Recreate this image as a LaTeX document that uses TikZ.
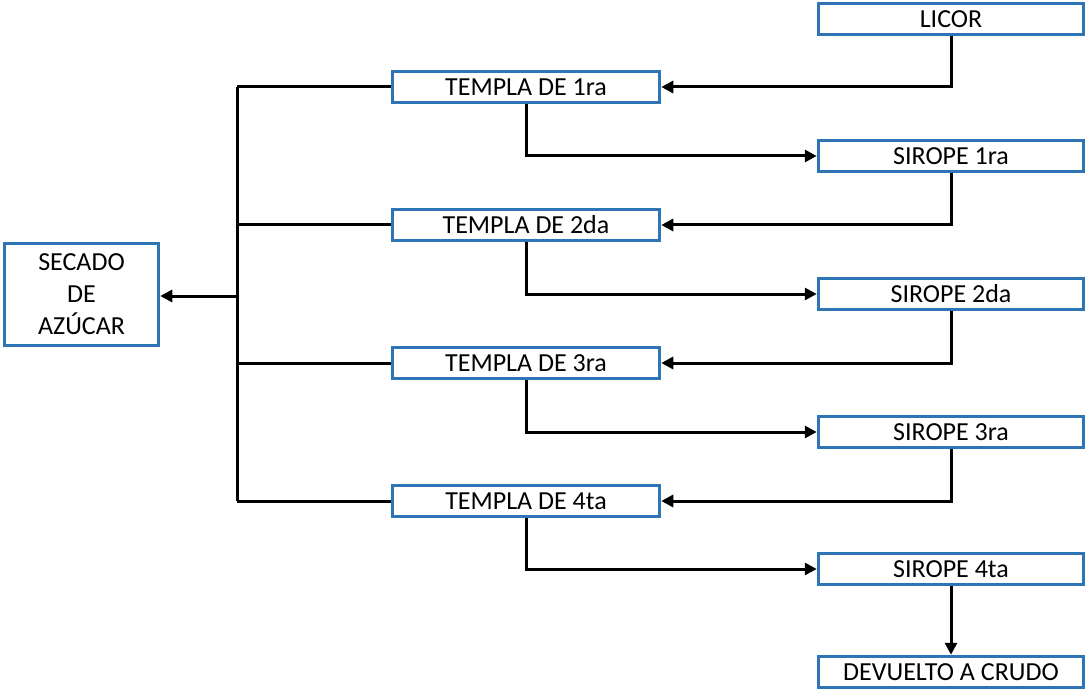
\documentclass[tikz,border=0pt]{standalone}
\usepackage{fontspec}
\setmainfont{Carlito}
\usetikzlibrary{arrows.meta}
\definecolor{boxblue}{RGB}{46,117,182}
\begin{document}
\begin{tikzpicture}[x=1pt,y=-1pt,
  box/.style={draw=boxblue,line width=3.5pt,fill=white,inner sep=0pt,
    font=\fontsize{26}{32}\selectfont},
  tbox/.style={box,minimum width=267pt,minimum height=31pt},
  sbox/.style={box,minimum width=265pt,minimum height=31pt},
  conn/.style={draw=black,line width=3pt,line join=miter},
  arr/.style={conn,-{Triangle[length=12pt,width=12pt]}}]
\useasboundingbox (0,0) rectangle (1088,690);
\node[sbox] (licor) at (951,19) {LICOR};
\node[tbox] (t1) at (526,87) {TEMPLA DE 1ra};
\node[sbox] (s1) at (951,156) {SIROPE 1ra};
\node[tbox] (t2) at (526,225) {TEMPLA DE 2da};
\node[sbox] (s2) at (951,294) {SIROPE 2da};
\node[tbox] (t3) at (526,363) {TEMPLA DE 3ra};
\node[sbox] (s3) at (951,432) {SIROPE 3ra};
\node[tbox] (t4) at (526,501) {TEMPLA DE 4ta};
\node[sbox] (s4) at (951,569) {SIROPE 4ta};
\node[sbox] (dev) at (951,672) {DEVUELTO A CRUDO};
\node[box,align=center,minimum width=154pt,minimum height=102pt] (sec) at (81.5,294.5) {SECADO\\DE\\AZÚCAR};
\coordinate (bustop) at (237,87);
\coordinate (busbot) at (237,501);
\coordinate (busmid) at (237,296);
\draw[conn] (bustop) -- (busbot);
\draw[conn] (t1.west) -- (t1.west -| bustop);
\draw[conn] (t2.west) -- (t2.west -| bustop);
\draw[conn] (t3.west) -- (t3.west -| bustop);
\draw[conn] (t4.west) -- (t4.west -| bustop);
\draw[arr] (busmid) -- (busmid -| sec.east);
\draw[arr] (licor.south) |- (t1.east);
\draw[arr] (t1.south) |- (s1.west);
\draw[arr] (s1.south) |- (t2.east);
\draw[arr] (t2.south) |- (s2.west);
\draw[arr] (s2.south) |- (t3.east);
\draw[arr] (t3.south) |- (s3.west);
\draw[arr] (s3.south) |- (t4.east);
\draw[arr] (t4.south) |- (s4.west);
\draw[arr] (s4.south) -- (dev.north);
\end{tikzpicture}
\end{document}
